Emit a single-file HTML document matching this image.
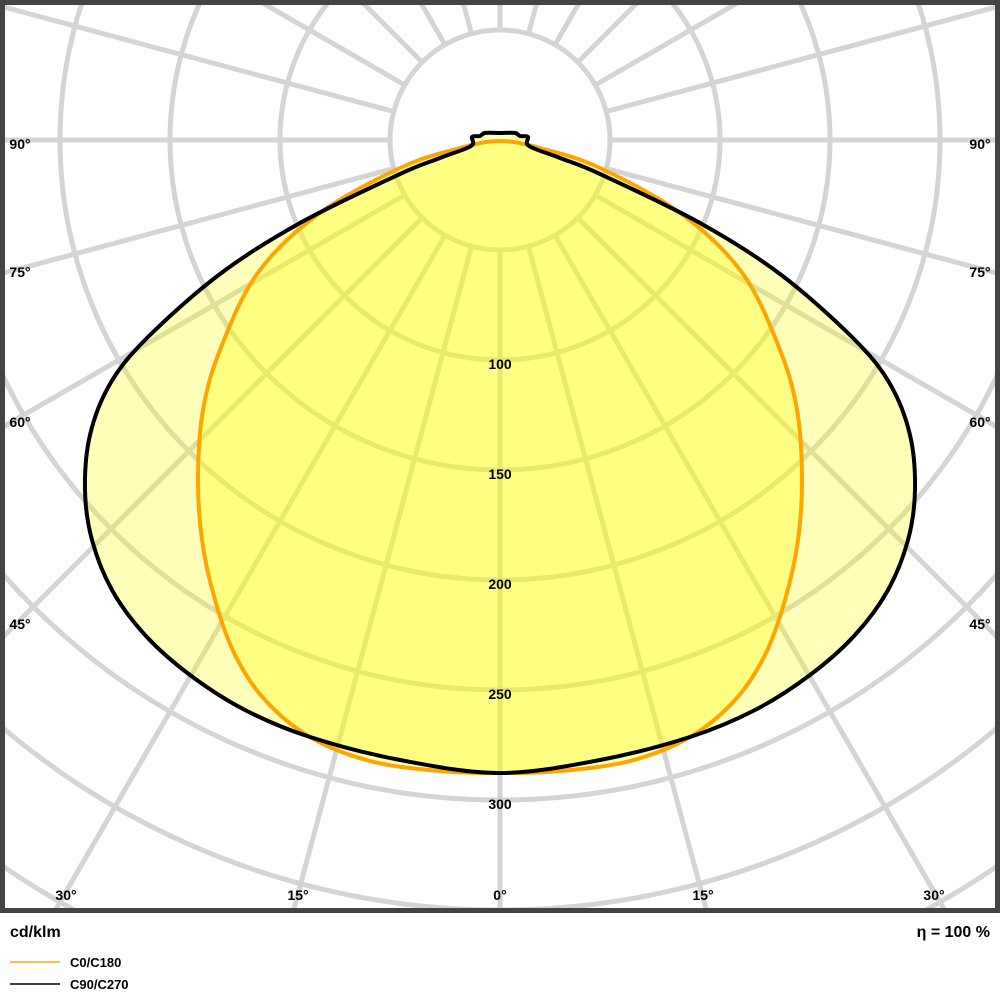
<!DOCTYPE html>
<html><head><meta charset="utf-8"><style>
html,body{margin:0;background:#fff;width:1000px;height:1000px;overflow:hidden;}
svg{display:block;}
text{font-family:"Liberation Sans",sans-serif;font-size:14px;fill:#000;font-weight:bold;}
</style></head><body>
<svg width="1000" height="1000" viewBox="0 0 1000 1000" xmlns="http://www.w3.org/2000/svg">
<defs><clipPath id="c"><rect x="3" y="3" width="994" height="907"/></clipPath></defs>
<rect width="1000" height="1000" fill="#fff"/>
<g clip-path="url(#c)">
<g stroke="#d4d4d4" stroke-width="5" fill="none">
<circle cx="500" cy="140" r="110"/><circle cx="500" cy="140" r="220"/><circle cx="500" cy="140" r="330"/><circle cx="500" cy="140" r="440"/><circle cx="500" cy="140" r="550"/><circle cx="500" cy="140" r="660"/><circle cx="500" cy="140" r="770"/><circle cx="500" cy="140" r="880"/><circle cx="500" cy="140" r="990"/>
<line x1="500" y1="250" x2="500" y2="1640"/>
<line x1="528.5" y1="246.3" x2="888.2" y2="1588.9"/><line x1="471.5" y1="246.3" x2="111.8" y2="1588.9"/>
<line x1="555" y1="235.3" x2="1250" y2="1439"/><line x1="445" y1="235.3" x2="-250" y2="1439"/>
<line x1="577.8" y1="217.8" x2="1560.7" y2="1200.7"/><line x1="422.2" y1="217.8" x2="-560.7" y2="1200.7"/>
<line x1="595.3" y1="195" x2="1799" y2="890"/><line x1="404.7" y1="195" x2="-799" y2="890"/>
<line x1="606.3" y1="168.5" x2="1948.9" y2="528.2"/><line x1="393.7" y1="168.5" x2="-948.9" y2="528.2"/>
<line x1="610" y1="140" x2="2000" y2="140"/><line x1="390" y1="140" x2="-1000" y2="140"/>
<line x1="606.3" y1="111.5" x2="1948.9" y2="-248.2"/><line x1="393.7" y1="111.5" x2="-948.9" y2="-248.2"/>
<line x1="595.3" y1="85" x2="1799" y2="-610"/><line x1="404.7" y1="85" x2="-799" y2="-610"/>
<line x1="577.8" y1="62.2" x2="1560.7" y2="-920.7"/><line x1="422.2" y1="62.2" x2="-560.7" y2="-920.7"/>
<line x1="555" y1="44.7" x2="1250" y2="-1159"/><line x1="445" y1="44.7" x2="-250" y2="-1159"/>
<line x1="528.5" y1="33.7" x2="888.2" y2="-1308.9"/><line x1="471.5" y1="33.7" x2="111.8" y2="-1308.9"/>
<line x1="500" y1="30" x2="500" y2="-1360"/>
</g>
<path id="bfill" fill="rgba(255,255,0,0.27)" stroke="none"/>
<path id="ofill" fill="rgba(255,255,0,0.3)" stroke="none"/>
<path id="oline" fill="none" stroke="#ffa500" stroke-width="4" stroke-linejoin="round"/>
<path id="bline" fill="none" stroke="#000" stroke-width="4" stroke-linejoin="round"/>
</g>
<rect x="2.5" y="2.5" width="995" height="908" fill="none" stroke="#444" stroke-width="5"/>
<g text-anchor="middle">
<text x="500" y="369">100</text><text x="500" y="479">150</text><text x="500" y="589">200</text><text x="500" y="699">250</text><text x="500" y="809">300</text>
<text x="66" y="900">30°</text><text x="298" y="900">15°</text><text x="500" y="900">0°</text><text x="703" y="900">15°</text><text x="934" y="900">30°</text>
<text x="20" y="149">90°</text><text x="20" y="277">75°</text><text x="20" y="427">60°</text><text x="20" y="629">45°</text>
<text x="980" y="149">90°</text><text x="980" y="277">75°</text><text x="980" y="427">60°</text><text x="980" y="629">45°</text>
</g>
<text x="10" y="937" style="font-size:16px">cd/klm</text>
<text x="990" y="937" text-anchor="end" style="font-size:16px">η = 100 %</text>
<line x1="10" y1="962" x2="60" y2="962" stroke="#ffa500" stroke-width="1.5"/>
<line x1="10" y1="984" x2="60" y2="984" stroke="#000" stroke-width="1.5"/>
<text x="70" y="967" style="font-size:13px">C0/C180</text>
<text x="70" y="989" style="font-size:13px">C90/C270</text>
</svg>
<script>
function mirror(pts){var all=pts.slice();for(var i=pts.length-2;i>=1;i--)all.push([1000-pts[i][0],pts[i][1]]);return all;}
function smooth(all){var n=all.length,d='M'+all[0][0]+','+all[0][1];
for(var i=0;i<n;i++){var p0=all[(i-1+n)%n],p1=all[i],p2=all[(i+1)%n],p3=all[(i+2)%n];
var c1=[p1[0]+(p2[0]-p0[0])/6,p1[1]+(p2[1]-p0[1])/6],c2=[p2[0]-(p3[0]-p1[0])/6,p2[1]-(p3[1]-p1[1])/6];
d+=' C'+c1[0].toFixed(1)+','+c1[1].toFixed(1)+' '+c2[0].toFixed(1)+','+c2[1].toFixed(1)+' '+p2[0]+','+p2[1];}
return d+'Z';}
var o=[[500,141],[540,148],[600,168],[683,215],[743,274],[780,350],[797,410],[802,477],[798,540],[785,600],[765,655],[735,700],[690,737],[630,761],[560,771],[500,773]];
var bTop=[[500,133],[515,133],[520,136],[528,137],[529,146]];
var bBody=[[529,146],[560,158],[600,174],[700,223],[780,274],[853,338],[890,384],[910,435],[915,490],[908,540],[888,590],[855,635],[810,675],[755,710],[690,737],[600,760],[500,773]];
var po=smooth(mirror(o));
var pb=smooth(mirror(bTop.concat(bBody.slice(1))));
document.getElementById('ofill').setAttribute('d',po);
document.getElementById('oline').setAttribute('d',po);
document.getElementById('bfill').setAttribute('d',pb);
document.getElementById('bline').setAttribute('d',pb);
</script>
</body></html>
